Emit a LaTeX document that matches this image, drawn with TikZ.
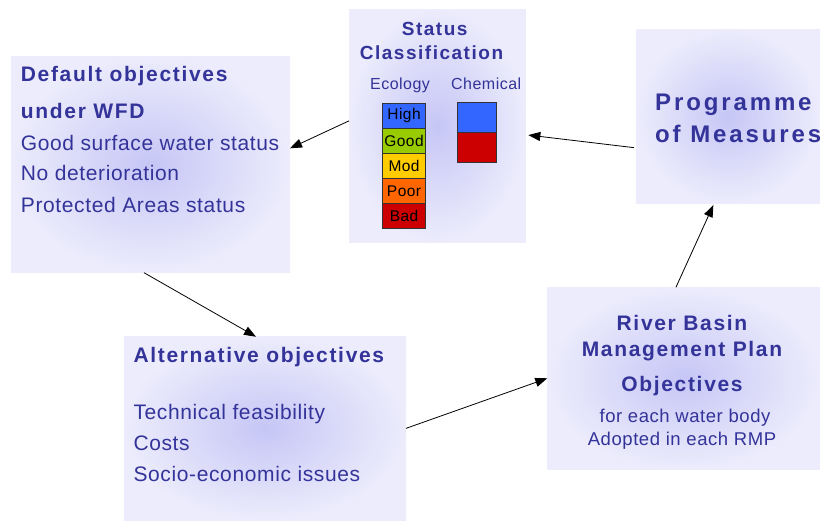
\documentclass[tikz,border=0pt]{standalone}
\usepackage{fontspec}
\usetikzlibrary{arrows.meta}
\newfontfamily\bodyfont[LetterSpace=3]{Liberation Sans}
\newfontfamily\headfont[LetterSpace=8]{Liberation Sans}
\newfontfamily\progfont[LetterSpace=12]{Liberation Sans}
\definecolor{wfdblue}{RGB}{51,51,153}
\definecolor{boxedge}{RGB}{236,236,252}
\definecolor{boxmid}{RGB}{198,198,246}
\definecolor{stHigh}{RGB}{51,102,255}
\definecolor{stGood}{RGB}{153,204,0}
\definecolor{stMod}{RGB}{255,204,0}
\definecolor{stPoor}{RGB}{255,102,0}
\definecolor{stBad}{RGB}{204,0,0}
\tikzset{
  panel/.style={shade, shading=radial, inner color=boxmid, outer color=boxedge,
    inner sep=0pt, outer sep=0pt, anchor=north west},
  head/.style={text=wfdblue, font=\headfont\bfseries\fontsize{21}{25}\selectfont,
    inner sep=0pt, anchor=base west},
  body/.style={text=wfdblue, font=\bodyfont\fontsize{21}{25}\selectfont,
    inner sep=0pt, anchor=base west},
  band/.style={draw=black!80, line width=0.8pt, minimum width=42.7pt, minimum height=25.1pt,
    inner sep=0pt, font=\bodyfont\fontsize{15.5}{18}\selectfont, anchor=north west},
  link/.style={-{Triangle[length=12pt,width=9pt]}, line width=0.8pt}
}

\begin{document}
\begin{tikzpicture}[x=1pt,y=-1pt]
  \useasboundingbox (0,0) rectangle (820,520);
  \clip (0,0) rectangle (820,520);
  \fill[white] (0,0) rectangle (820,520);

  % panels
  \node[panel, minimum width=176.7pt, minimum height=233.7pt] (status) at (349,9) {};
  \node[panel, minimum width=279pt, minimum height=216pt] (default) at (11,56.7) {};
  \node[panel, minimum width=183.3pt, minimum height=174.3pt] (progbox) at (636.7,29) {};
  \node[panel, minimum width=272.7pt, minimum height=182pt] (river) at (547.3,287.3) {};
  \node[panel, minimum width=282pt, minimum height=183.3pt] (altbox) at (124,336.7) {};

  % status classification
  \node[head, anchor=base, font=\headfont\bfseries\fontsize{19}{23}\selectfont] (stTitleA) at (434.7,35) {Status};
  \node[head, anchor=base, font=\headfont\bfseries\fontsize{19}{23}\selectfont] (stTitleB) at (431.5,59.3) {Classification};
  \node[body, font=\bodyfont\fontsize{16}{19}\selectfont] (ecoLabel) at (370,89.3) {Ecology};
  \node[body, font=\bodyfont\fontsize{16}{19}\selectfont] (chemLabel) at (451,89.3) {Chemical};
  \foreach \lab/\col [count=\i from 0] in {High/stHigh, Good/stGood, Mod/stMod, Poor/stPoor, Bad/stBad}
    \node[band, fill=\col] (eco\lab) at (382.3,{102.7+25.1*\i}) {\lab};
  \node[band, fill=stHigh, minimum width=38.4pt, minimum height=30pt] (chemGood) at (457.3,101.7) {};
  \node[band, fill=stBad, minimum width=38.4pt, minimum height=30.6pt] (chemBad) at (457.3,131.7) {};

  % default objectives
  \node[head] (defTitleA) at (20.7,81) {Default objectives};
  \node[head] (defTitleB) at (20.7,118.3) {under WFD};
  \node[body] (defGood) at (20.7,150) {Good surface water status};
  \node[body] (defNoDet) at (20.7,180.7) {No deterioration};
  \node[body] (defProt) at (20.7,212.3) {Protected Areas status};

  % programme of measures
  \node[head, font=\progfont\bfseries\fontsize{24}{28}\selectfont] (progA) at (655,110.7) {Programme};
  \node[head, font=\progfont\bfseries\fontsize{24}{28}\selectfont] (progB) at (655,142.7) {of Measures};

  % river basin management plan
  \node[head, anchor=base] (rbmpA) at (682,330) {River Basin};
  \node[head, anchor=base] (rbmpB) at (682,356.7) {Management Plan};
  \node[head, anchor=base] (rbmpC) at (682,391.7) {Objectives};
  \node[body, anchor=base, font=\bodyfont\fontsize{18.5}{22}\selectfont] (rbmpD) at (685,422.7) {for each water body};
  \node[body, anchor=base, font=\bodyfont\fontsize{18.5}{22}\selectfont] (rbmpE) at (682,445) {Adopted in each RMP};

  % alternative objectives
  \node[head] (altTitle) at (133.3,362.7) {Alternative objectives};
  \node[body] (altTech) at (133.3,419.3) {Technical feasibility};
  \node[body] (altCost) at (133.3,450) {Costs};
  \node[body] (altSocio) at (133.3,481.7) {Socio-economic issues};

  % links
  \draw[link] ([yshift=5pt]status.west) -- ([yshift=16.4pt]default.east);
  \draw[link] ([xshift=-2.7pt,yshift=-31.5pt]progbox.west) -- ([xshift=2.6pt,yshift=-9.2pt]status.east);
  \draw[link] ([xshift=-6.5pt]default.south) -- ([xshift=-9pt]altbox.north);
  \draw[link] (altbox.east) -- (river.west);
  \draw[link] ([xshift=-7.7pt]river.north) -- ([xshift=-15pt,yshift=-1.7pt]progbox.south);
\end{tikzpicture}
\end{document}
